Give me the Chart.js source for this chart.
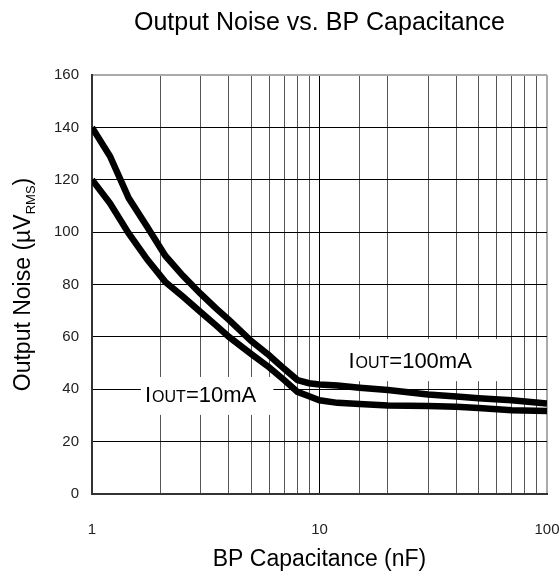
<!DOCTYPE html>
<html>
<head>
<meta charset="utf-8">
<script src="https://cdn.jsdelivr.net/npm/chart.js@4.4.0/dist/chart.umd.min.js"></script>
<style>
  html, body { margin: 0; padding: 0; background: #fff; }
  #wrap { width: 559px; height: 575px; }
</style>
</head>
<body>
<div id="wrap"><canvas id="noiseChart" width="559" height="575"></canvas></div>
<script>
// BP capacitance (nF) and output noise (uVrms)
const capNF      = [1, 1.2, 1.45, 1.75, 2.1, 2.5, 3, 3.5, 4, 5, 6, 7, 8, 9, 10, 12, 15, 20, 30, 40, 50, 70, 100];
const noise100mA = [140, 129, 113, 102, 91, 83.5, 76.5, 71, 66.5, 58.5, 53, 47.8, 43.5, 42.3, 41.8, 41.4, 40.6, 39.7, 38, 37.2, 36.6, 35.8, 34.6];
const noise10mA  = [120, 111, 99.5, 89.5, 81, 75.5, 69.5, 64.5, 60, 53.5, 48.4, 43.5, 39, 37.3, 35.8, 34.8, 34.4, 33.8, 33.6, 33.3, 32.8, 32, 31.7];

const xLabelTicks = [1, 10, 100];
const yMin = 0, yMax = 160, yStep = 20;

const FONT = "'Liberation Sans', Arial, sans-serif";

// white boxes + labels "IOUT=..." in data units
const labels = [
  { big1: 'I', small: 'OUT', big2: '=10mA',  x: 1.71, y: 35.2, box: [1.64, 6.27, 44.7, 30.2] },
  { big1: 'I', small: 'OUT', big2: '=100mA', x: 13.4, y: 48.3, box: [11.8, 62, 59.2, 43.1] }
];

function toPoints(xs, ys) {
  return xs.map((x, i) => ({ x: x, y: ys[i] }));
}

const textLayer = {
  id: 'textLayer',
  beforeDatasetsDraw(chart) {
    const { ctx, scales: { x, y } } = chart;
    ctx.save();
    ctx.fillStyle = '#fff';
    labels.forEach((l) => {
      const x0 = x.getPixelForValue(l.box[0]), x1 = x.getPixelForValue(l.box[1]);
      const y0 = y.getPixelForValue(l.box[2]), y1 = y.getPixelForValue(l.box[3]);
      ctx.fillRect(x0, y0, x1 - x0, y1 - y0);
    });
    // labels
    ctx.fillStyle = '#000';
    ctx.textBaseline = 'alphabetic';
    ctx.textAlign = 'left';
    labels.forEach((l) => {
      let px = x.getPixelForValue(l.x);
      const py = y.getPixelForValue(l.y);
      ctx.font = '22px ' + FONT;
      ctx.fillText(l.big1, px, py);
      px += ctx.measureText(l.big1).width + 1;
      ctx.font = '16px ' + FONT;
      ctx.fillText(l.small, px, py);
      px += ctx.measureText(l.small).width;
      ctx.font = '22px ' + FONT;
      ctx.fillText(l.big2, px, py);
    });
    ctx.restore();
  },
  afterDraw(chart) {
    const { ctx, chartArea } = chart;
    const cx = (chartArea.left + chartArea.right) / 2;
    const cy = (chartArea.top + chartArea.bottom) / 2;
    ctx.save();
    ctx.fillStyle = '#000';
    ctx.textAlign = 'center';
    ctx.textBaseline = 'alphabetic';

    // title
    ctx.font = '25px ' + FONT;
    ctx.fillText('Output Noise vs. BP Capacitance', cx, 30);

    // x title
    ctx.font = '23px ' + FONT;
    ctx.fillText('BP Capacitance (nF)', cx, 566);

    // y title with RMS subscript
    const main = 'Output Noise (\u00b5V', sub = 'RMS', close = ')';
    ctx.font = '23px ' + FONT;
    const wMain = ctx.measureText(main).width;
    const wClose = ctx.measureText(close).width;
    ctx.font = '13px ' + FONT;
    const wSub = ctx.measureText(sub).width;
    const total = wMain + wSub + wClose;
    ctx.translate(30, cy);
    ctx.rotate(-Math.PI / 2);
    ctx.textAlign = 'left';
    let p = -total / 2;
    ctx.font = '23px ' + FONT;
    ctx.fillText(main, p, 0);
    p += wMain;
    ctx.font = '13px ' + FONT;
    ctx.fillText(sub, p, 5);
    p += wSub;
    ctx.font = '23px ' + FONT;
    ctx.fillText(close, p, 0);
    ctx.restore();
  }
};

const ctx = document.getElementById('noiseChart').getContext('2d');

new Chart(ctx, {
  type: 'line',
  data: {
    datasets: [
      {
        label: 'IOUT=100mA',
        data: toPoints(capNF, noise100mA),
        borderColor: '#000',
        borderWidth: 6.5,
        pointRadius: 0,
        tension: 0,
        fill: false
      },
      {
        label: 'IOUT=10mA',
        data: toPoints(capNF, noise10mA),
        borderColor: '#000',
        borderWidth: 6.5,
        pointRadius: 0,
        tension: 0,
        fill: false
      }
    ]
  },
  options: {
    responsive: false,
    animation: false,
    events: [],
    layout: { padding: { top: 75, right: 12, left: 0, bottom: 0 } },
    plugins: {
      legend: { display: false },
      title: { display: false },
      tooltip: { enabled: false }
    },
    scales: {
      x: {
        type: 'logarithmic',
        min: 1,
        max: 100,
        afterFit: (scale) => {
          scale.height = 81;
          scale.paddingLeft = 0;
          scale.paddingRight = 0;
        },
        border: { display: true, color: '#333', width: 2 },
        grid: {
          drawTicks: false,
          color: (c) => {
            const v = c.tick ? c.tick.value : 0;
            if (v === 100) return '#aaa';
            return xLabelTicks.includes(v) ? '#000' : '#555';
          },
          lineWidth: (c) => (c.tick && c.tick.value === 100 ? 2 : 1)
        },
        ticks: {
          autoSkip: false,
          maxRotation: 0,
          padding: 27,
          color: '#222',
          font: { family: FONT, size: 15 },
          callback: (v) => (xLabelTicks.includes(v) ? String(v) : '')
        }
      },
      y: {
        min: yMin,
        max: yMax,
        afterFit: (scale) => { scale.width = 92; },
        border: { display: true, color: '#333', width: 2 },
        grid: {
          drawTicks: false,
          color: (c) => (c.tick && c.tick.value === yMax ? '#aaa' : '#000'),
          lineWidth: (c) => (c.tick && c.tick.value === yMax ? 2 : 1)
        },
        ticks: {
          stepSize: yStep,
          padding: 13,
          color: '#222',
          font: { family: FONT, size: 15 }
        }
      }
    }
  },
  plugins: [textLayer]
});
</script>
</body>
</html>
